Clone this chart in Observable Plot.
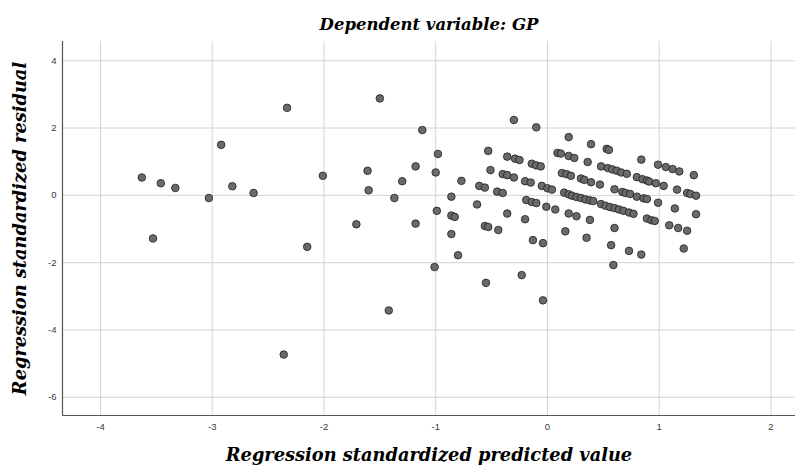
<!DOCTYPE html>
<html>
<head>
<meta charset="utf-8">
<script src="https://cdn.jsdelivr.net/npm/d3@7"></script>
<script src="https://cdn.jsdelivr.net/npm/@observablehq/plot@0.6"></script>
<style>
  html, body { margin: 0; padding: 0; background: #fff; }
  svg { display: block; }
</style>
</head>
<body>
<div id="chart"></div>
<script>
const title = "Dependent variable: GP";
const xLabel = "Regression standardized predicted value";
const yLabel = "Regression standardized residual";
const xTicks = [-4, -3, -2, -1, 0, 1, 2];
const yTicks = [-6, -4, -2, 0, 2, 4];
const xDomain = [-4.34, 2.22];
const yDomain = [-6.54, 4.57];

// Regression standardized predicted value
const predicted = [
  -3.63, -3.46, -3.33, -3.03, -2.92, -2.82, -2.63, -2.33, -2.01, -1.50,
  -1.61, -1.60, -1.37, -1.71, -3.53, -2.15, -1.42, -2.36, -1.30, -1.18,
  -1.12, -0.98, -1.00, -0.77, -0.86, -0.99, -1.18, -0.86, -0.83, -0.86,
  -0.80, -1.01, -0.63, -0.53, -0.51, -0.61, -0.56, -0.45, -0.40, -0.36,
  -0.29, -0.25, -0.40, -0.36, -0.30, -0.30, -0.10, -0.14, -0.10, -0.06,
  -0.20, -0.15, -0.05, 0.00, 0.04, -0.19, -0.14, -0.10, -0.01, 0.07,
  -0.36, -0.56, -0.53, -0.44, -0.20, -0.55, -0.23, -0.04, -0.13, -0.04,
  0.19, 0.39, 0.53, 0.55, 0.09, 0.12, 0.19, 0.24, 0.36, 0.48,
  0.54, 0.58, 0.62, 0.66, 0.71, 0.84, 0.99, 1.06, 1.12, 1.18,
  1.31, 0.13, 0.17, 0.21, 0.30, 0.33, 0.39, 0.47, 0.80, 0.85,
  0.89, 0.91, 0.97, 1.04, 0.60, 0.67, 0.70, 0.74, 0.80, 0.86,
  0.89, 0.99, 1.16, 1.25, 1.28, 1.33, 1.14, 1.33, 0.15, 0.19,
  0.22, 0.26, 0.30, 0.34, 0.38, 0.41, 0.48, 0.52, 0.56, 0.60,
  0.64, 0.68, 0.73, 0.77, 0.89, 0.93, 0.96, 1.09, 1.17, 1.25,
  0.19, 0.26, 0.38, 0.60, 0.16, 0.35, 0.57, 0.73, 0.84, 1.22,
  0.59
];

// Regression standardized residual
const residual = [
  0.53, 0.36, 0.22, -0.08, 1.50, 0.27, 0.07, 2.60, 0.58, 2.88,
  0.73, 0.15, -0.08, -0.86, -1.28, -1.53, -3.42, -4.73, 0.42, 0.86,
  1.94, 1.23, 0.68, 0.43, -0.04, -0.46, -0.84, -0.60, -0.64, -1.15,
  -1.78, -2.13, -0.27, 1.32, 0.75, 0.28, 0.23, 0.11, 0.07, 1.15,
  1.09, 1.05, 0.63, 0.60, 0.53, 2.24, 2.02, 0.94, 0.89, 0.86,
  0.42, 0.38, 0.28, 0.21, 0.17, -0.14, -0.20, -0.23, -0.34, -0.42,
  -0.54, -0.91, -0.94, -1.03, -0.71, -2.60, -2.37, -3.12, -1.33, -1.42,
  1.73, 1.52, 1.38, 1.35, 1.26, 1.24, 1.17, 1.11, 0.99, 0.86,
  0.81, 0.77, 0.73, 0.68, 0.64, 1.06, 0.91, 0.84, 0.78, 0.71,
  0.60, 0.66, 0.63, 0.58, 0.50, 0.46, 0.39, 0.32, 0.54, 0.48,
  0.44, 0.41, 0.36, 0.28, 0.18, 0.10, 0.07, 0.04, -0.04, -0.09,
  -0.11, -0.22, 0.17, 0.07, 0.04, -0.01, -0.39, -0.56, 0.08, 0.03,
  -0.01, -0.05, -0.08, -0.12, -0.15, -0.17, -0.26, -0.31, -0.35, -0.38,
  -0.42, -0.46, -0.51, -0.55, -0.69, -0.74, -0.76, -0.89, -0.97, -1.05,
  -0.54, -0.62, -0.73, -0.97, -1.07, -1.26, -1.48, -1.65, -1.76, -1.58,
  -2.07
];

const data = predicted.map((x, i) => ({x, y: residual[i]}));

const serif = "'DejaVu Serif', serif";
const sans = "'Liberation Sans', Arial, sans-serif";

const chart = Plot.plot({
  width: 795,
  height: 470,
  marginLeft: 62,
  marginRight: 0,
  marginTop: 41,
  marginBottom: 55,
  style: {background: "#fff", overflow: "visible"},
  x: {domain: xDomain},
  y: {domain: yDomain},
  marks: [
    Plot.gridX(xTicks, {stroke: "#d4d4d4", strokeOpacity: 1, strokeWidth: 1}),
    Plot.gridY(yTicks, {stroke: "#d4d4d4", strokeOpacity: 1, strokeWidth: 1}),
    Plot.axisX(xTicks, {tickSize: 0, tickPadding: 8, label: null, tickFormat: d => String(d), fontSize: 9.5, fontFamily: sans, fill: "#3a3a3a"}),
    Plot.axisY(yTicks, {tickSize: 0, tickPadding: 6, label: null, tickFormat: d => String(d), fontSize: 9.5, fontFamily: sans, fill: "#3a3a3a"}),
    Plot.ruleX([xDomain[0]], {stroke: "#555", strokeWidth: 1.2}),
    Plot.ruleY([yDomain[0]], {stroke: "#555", strokeWidth: 1.2}),
    Plot.dot(data, {x: "x", y: "y", r: 3.8, fill: "#6a6a6a", stroke: "#1e1e1e", strokeWidth: 0.8}),
    Plot.text([title], {frameAnchor: "top", dy: -23, text: d => d, fontFamily: serif, fontWeight: "bold", fontStyle: "italic", fontSize: 16.5, fill: "#000"}),
    Plot.text([xLabel], {frameAnchor: "bottom", dy: 45, text: d => d, fontFamily: serif, fontWeight: "bold", fontStyle: "italic", fontSize: 17.8, fill: "#000"}),
    Plot.text([yLabel], {frameAnchor: "left", textAnchor: "middle", dx: -42, rotate: -90, text: d => d, fontFamily: serif, fontWeight: "bold", fontStyle: "italic", fontSize: 17.8, fill: "#000"})
  ]
});
document.getElementById("chart").appendChild(chart);
</script>
</body>
</html>
